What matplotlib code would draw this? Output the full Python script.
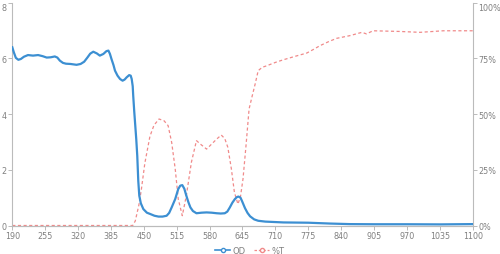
import numpy as np
import matplotlib.pyplot as plt
from matplotlib.lines import Line2D

# OD curve
od_wl = [190, 193, 197, 202, 207, 213, 221, 231, 241, 250, 258, 266, 274, 279, 284, 290,
         296, 305, 317, 325, 332, 338, 344, 350, 357, 363, 370, 376, 380, 383, 386, 390,
         393, 398, 403, 408, 412, 416, 421, 424, 426, 428, 429, 431, 433, 435, 437, 439,
         441, 444, 449, 456, 463, 471, 479, 487, 495, 500, 505, 512, 518, 522, 526, 530,
         534, 538, 542, 547, 554, 564, 574, 584, 594, 602, 610, 615, 620, 625, 630, 634,
         637, 641, 644, 647, 650, 655, 660, 668, 676, 690, 726, 775, 818, 857, 905, 970,
         1035, 1100]
od = [6.40, 6.22, 6.02, 5.95, 5.98, 6.06, 6.12, 6.10, 6.12, 6.08, 6.03, 6.04, 6.07, 6.03,
      5.92, 5.84, 5.81, 5.80, 5.77, 5.80, 5.88, 6.02, 6.17, 6.24, 6.18, 6.10, 6.16, 6.26,
      6.28, 6.16, 5.98, 5.76, 5.56, 5.38, 5.26, 5.20, 5.24, 5.32, 5.40, 5.38, 5.26, 5.00,
      4.66, 4.10, 3.60, 3.10, 2.50, 1.60, 1.07, 0.80, 0.59, 0.46, 0.41, 0.35, 0.32, 0.32,
      0.35, 0.45, 0.65, 0.95, 1.31, 1.43, 1.45, 1.32, 1.07, 0.84, 0.65, 0.52, 0.44, 0.46,
      0.47, 0.46, 0.44, 0.43, 0.44, 0.50, 0.65, 0.82, 0.95, 1.02, 1.04, 1.00, 0.88, 0.75,
      0.62, 0.45, 0.33, 0.22, 0.17, 0.14, 0.11, 0.10, 0.07, 0.05, 0.045, 0.045, 0.04, 0.05]

# %T curve
t_wl = [190, 428, 433, 440, 445, 452, 462, 470, 480, 490, 498, 505, 512, 518, 526,
        534, 544, 554, 562, 574, 586, 594, 603, 610, 616, 623, 629, 636, 641, 646,
        652, 658, 664, 670, 676, 684, 693, 710, 726, 750, 772, 785, 798, 815, 831,
        857, 881, 890, 903, 955, 996, 1042, 1100]
pct_t = [0, 0, 2, 9, 16, 28, 40, 45, 47.8, 47, 44.8, 37.3, 25.4, 11.9, 4.4,
         13.4, 28.4, 38.1, 36.5, 34.3, 37, 38.8, 40.6, 39, 35.1, 25.4, 14.9, 9.6, 13, 20.9,
         36, 52.3, 58, 63.5, 69.5, 71, 71.7, 73.2, 74.4, 76, 77.4, 79, 80.7, 82.5, 84,
         85.2, 86.7, 86, 87.4, 87.1, 86.7, 87.4, 87.4]

x_ticks = list(range(190, 1101, 65))
od_ticks = [0, 2, 4, 6, 8]
t_ticks = [0, 25, 50, 75, 100]

blue = '#3c8fd2'
red = '#f08a8a'
txt = '#808080'

plt.rcParams['font.family'] = 'DejaVu Sans'
fig = plt.figure(figsize=(5, 2.55), dpi=100)
ax = fig.add_axes([12.3 / 500, 1 - 226.5 / 255, 460.4 / 500, 222.8 / 255])
ax2 = ax.twinx()

ax.plot(od_wl, od, color=blue, lw=1.6, zorder=3, solid_joinstyle='round')
ax2.plot(t_wl, pct_t, color=red, lw=0.9, ls=(0, (2.5, 2)), zorder=2)
ax.set_zorder(ax2.get_zorder() + 1)
ax.patch.set_visible(False)

ax.set_xlim(190, 1100)
ax.set_ylim(0, 8)
ax2.set_ylim(0, 100)
ax.set_xticks(x_ticks)
ax.set_yticks(od_ticks)
ax2.set_yticks(t_ticks)
ax2.set_yticklabels([f'{v}%' for v in t_ticks])

for a in (ax, ax2):
    for s in a.spines.values():
        s.set_color('#bbbbbb')
        s.set_linewidth(0.8)
    a.spines['top'].set_visible(False)
    a.tick_params(colors='#bbbbbb', labelcolor=txt, labelsize=5.8, length=3, width=0.7, pad=1)
ax.spines['right'].set_visible(False)
ax2.spines['left'].set_visible(False)

ax.get_yticklabels()[-1].set_verticalalignment('top')
ax2.get_yticklabels()[-1].set_verticalalignment('top')

handles = [Line2D([], [], color=blue, lw=1.2, marker='o', ms=3, mfc='white', mew=1),
           Line2D([], [], color=red, lw=0.9, ls=(0, (2, 1.5)), marker='o', ms=3, mfc='white', mew=1)]
fig.legend(handles, ['OD', '%T'], loc='center', bbox_to_anchor=(0.5, 1 - 251.5 / 255),
           ncol=2, frameon=False, fontsize=6, labelcolor=txt, handlelength=1.8,
           handletextpad=0.3, columnspacing=1.0, borderpad=0)

fig.savefig('out.png', dpi=100)
